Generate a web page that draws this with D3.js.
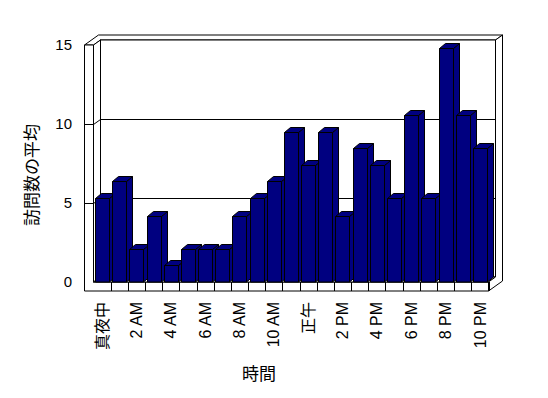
<!DOCTYPE html>
<html>
<head>
<meta charset="utf-8">
<script src="https://cdn.jsdelivr.net/npm/d3@7"></script>
<style>
    body { margin: 0; background: #fff; }
    text { font-family: "Liberation Sans", "Noto Sans CJK JP", sans-serif; fill: #000; }
</style>
</head>
<body>
<div id="chart"></div>
<script>
// Data
var hours = ["真夜中", "1 AM", "2 AM", "3 AM", "4 AM", "5 AM", "6 AM", "7 AM", "8 AM", "9 AM", "10 AM", "11 AM",
    "正午", "1 PM", "2 PM", "3 PM", "4 PM", "5 PM", "6 PM", "7 PM", "8 PM", "9 PM", "10 PM"];
var visits = [5.3, 6.4, 2.1, 4.2, 1.1, 2.1, 2.1, 2.1, 4.2, 5.3, 6.4, 9.5,
    7.4, 9.5, 4.2, 8.5, 7.4, 5.3, 10.6, 5.3, 14.8, 10.6, 8.5];
var yTicks = [0, 5, 10, 15];
var yTitle = "訪問数の平均";
var xTitle = "時間";

// Dimensions
var opts = {
    width: 548,
    height: 398,
    left: 93.5,
    right: 488.5,
    top: 45,
    bottom: 282,
    wall: 9,          // thickness of left wall / floor
    depth: { dx: 7, dy: -5 },     // front plane -> back wall
    barDepth: { dx: 6, dy: -5 },
    barColor: "#000080"
};

var svg = d3.select("#chart")
    .append("svg")
    .attr("width", opts.width)
    .attr("height", opts.height);

var x = d3.scaleBand()
    .domain(d3.range(hours.length))
    .range([opts.left, opts.right])
    .paddingInner(0.18)
    .paddingOuter(0.09);

var y = d3.scaleLinear()
    .domain([0, 15])
    .range([opts.bottom, opts.top]);

var hx = opts.depth.dx, hy = opts.depth.dy;
var fx0 = opts.left - opts.wall;
var floorBottom = opts.bottom + opts.wall;
var x0 = opts.left, x1 = opts.right;
var yT = y(15), yB = y(0);

function pts(a) {
    return a.map(function(p) { return p.join(","); }).join(" ");
}

var frame = svg.append("g")
    .attr("fill", "#fff")
    .attr("stroke", "#000")
    .attr("stroke-width", 1);

// top edge of walls
frame.append("polygon").attr("points", pts([
    [fx0, yT], [fx0 + 2 * hx, yT + 2 * hy], [x1 + 2 * hx, yT + 2 * hy],
    [x1 + hx, yT + hy], [x0 + hx, yT + hy], [x0, yT]
]));

// left wall front + floor front
frame.append("polygon").attr("points", pts([
    [fx0, yT], [x0, yT], [x0, yB], [x1, yB], [x1, floorBottom], [fx0, floorBottom]
]));

// left wall inner face
frame.append("polygon").attr("points", pts([
    [x0, yT], [x0 + hx, yT + hy], [x0 + hx, yB + hy], [x0, yB]
]));

// back wall
frame.append("rect")
    .attr("x", x0 + hx)
    .attr("y", yT + hy)
    .attr("width", x1 - x0)
    .attr("height", yB - yT);

// floor top
frame.append("polygon").attr("points", pts([
    [x0, yB], [x0 + hx, yB + hy], [x1 + hx, yB + hy], [x1, yB]
]));

// right side
frame.append("polygon").attr("points", pts([
    [x1 + hx, yT + hy], [x1 + 2 * hx, yT + 2 * hy], [x1 + 2 * hx, floorBottom + 2 * hy],
    [x1, floorBottom], [x1, yB], [x1 + hx, yB + hy]
]));

// Gridlines (left wall ticks + back wall lines)
svg.append("g").selectAll("polyline")
    .data(yTicks.filter(function(d) { return d > 0 && d < 15; }))
    .enter().append("polyline")
    .attr("fill", "none")
    .attr("stroke", "#000")
    .attr("points", function(d) {
        var yy = Math.round(y(d)) + 0.5;
        return pts([[fx0, yy], [x0, yy], [x0 + hx, yy + hy], [x1 + hx, yy + hy]]);
    });

// Category ticks on floor front
svg.append("g").selectAll("line")
    .data(d3.range(1, hours.length + 1))
    .enter().append("line")
    .attr("stroke", "#000")
    .attr("x1", function(k) { return Math.round(x0 + k * x.step()) + 0.5; })
    .attr("x2", function(k) { return Math.round(x0 + k * x.step()) + 0.5; })
    .attr("y1", yB)
    .attr("y2", floorBottom);

// Bars
var bw = Math.round(x.bandwidth());
var bdx = opts.barDepth.dx, bdy = opts.barDepth.dy;

var bars = svg.append("g").selectAll("g")
    .data(visits)
    .enter()
    .append("g")
    .attr("fill", opts.barColor)
    .attr("stroke", "#000")
    .attr("stroke-linejoin", "round");

bars.append("polygon")
    .attr("points", function(d, i) {
        var xb = Math.round(x(i)) + 0.5, yt = Math.round(y(d)) + 0.5;
        return pts([[xb + bw, yt], [xb + bw + bdx, yt + bdy], [xb + bw + bdx, yB + bdy], [xb + bw, yB]]);
    });

bars.append("polygon")
    .attr("points", function(d, i) {
        var xb = Math.round(x(i)) + 0.5, yt = Math.round(y(d)) + 0.5;
        return pts([[xb, yt], [xb + bdx, yt + bdy], [xb + bw + bdx, yt + bdy], [xb + bw, yt]]);
    });

bars.append("rect")
    .attr("x", function(d, i) { return Math.round(x(i)) + 0.5; })
    .attr("y", function(d) { return Math.round(y(d)) + 0.5; })
    .attr("width", bw)
    .attr("height", function(d) { return yB - (Math.round(y(d)) + 0.5); });

// Y tick labels
svg.append("g").selectAll("text")
    .data(yTicks)
    .enter().append("text")
    .attr("x", 72)
    .attr("y", function(d) { return y(d); })
    .attr("dy", "0.35em")
    .attr("text-anchor", "end")
    .style("font-size", "15px")
    .text(function(d) { return d; });

// X tick labels, every 2 hours
svg.append("g").selectAll("text")
    .data(hours.filter(function(d, i) { return i % 2 === 0; }))
    .enter().append("text")
    .attr("transform", function(d) {
        var i = hours.indexOf(d);
        return "translate(" + (x(i) + x.bandwidth() / 2) + ",302) rotate(-90)";
    })
    .attr("dy", "0.35em")
    .attr("text-anchor", "end")
    .style("font-size", "16px")
    .text(function(d) { return d; });

// Axis titles
svg.append("text")
    .attr("transform", "translate(32,175) rotate(-90)")
    .attr("dy", "0.35em")
    .attr("text-anchor", "middle")
    .style("font-size", "17px")
    .text(yTitle);

svg.append("text")
    .attr("x", 259)
    .attr("y", 380)
    .attr("text-anchor", "middle")
    .style("font-size", "17px")
    .text(xTitle);
</script>
</body>
</html>
